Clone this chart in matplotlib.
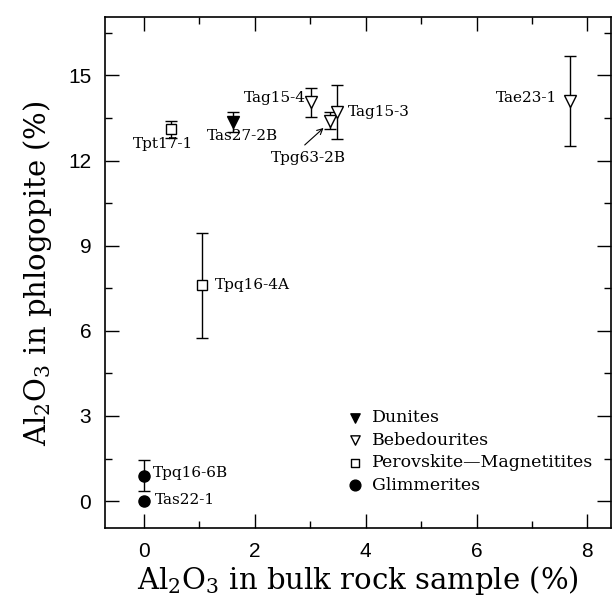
import numpy as np
import matplotlib
matplotlib.use("Agg")
import matplotlib.pyplot as plt
from matplotlib.ticker import MultipleLocator

plt.rcParams['mathtext.fontset'] = 'dejavuserif'

# sample data: Al2O3 bulk rock (x), Al2O3 in phlogopite (y), error on y
dun_names = ["Tas27-2B"]
dun_x = [1.6]
dun_y = [13.35]
dun_err = [0.35]

beb_names = ["Tag15-4", "Tpg63-2B", "Tag15-3", "Tae23-1"]
beb_x = [3.02, 3.35, 3.49, 7.68]
beb_y = [14.05, 13.4, 13.7, 14.1]
beb_err = [0.5, 0.3, 0.95, 1.6]

per_names = ["Tpt17-1", "Tpq16-4A"]
per_x = [0.49, 1.05]
per_y = [13.1, 7.6]
per_err = [0.3, 1.85]

gli_names = ["Tpq16-6B", "Tas22-1"]
gli_x = [0.0, 0.0]
gli_y = [0.9, 0.0]
gli_err = [0.55, 0.0]

fig = plt.figure(figsize=(6.15, 5.96), dpi=100)
ax = fig.add_axes([0.171, 0.114, 0.822, 0.857])

ekw = dict(ecolor='k', elinewidth=1.0, capsize=4, capthick=1.0, ls='none')
ax.errorbar(dun_x, dun_y, yerr=dun_err, marker='v', ms=8, mfc='k', mec='k', **ekw)
ax.errorbar(beb_x, beb_y, yerr=beb_err, marker='v', ms=8, mfc='white', mec='k', mew=1.0, **ekw)
ax.errorbar(per_x, per_y, yerr=per_err, marker='s', ms=7, mfc='white', mec='k', mew=1.0, **ekw)
ax.errorbar(gli_x, gli_y, yerr=[e if e > 0 else np.nan for e in gli_err],
            marker='o', ms=8, mfc='k', mec='k', **ekw)

lab = dict(fontsize=11, family='DejaVu Serif', va='center')
ax.text(0.34, 12.6, "Tpt17-1", ha='center', **lab)
ax.text(1.78, 12.85, "Tas27-2B", ha='center', **lab)
ax.text(2.92, 14.2, "Tag15-4", ha='right', **lab)
ax.text(3.67, 13.7, "Tag15-3", ha='left', **lab)
ax.text(7.45, 14.2, "Tae23-1", ha='right', **lab)
ax.text(1.28, 7.6, "Tpq16-4A", ha='left', **lab)
ax.text(0.16, 1.0, "Tpq16-6B", ha='left', **lab)
ax.text(0.2, 0.05, "Tas22-1", ha='left', **lab)
ax.text(2.97, 12.08, "Tpg63-2B", ha='center', **lab)
ax.annotate("", xy=(3.24, 13.15), xytext=(2.9, 12.55),
            arrowprops=dict(arrowstyle='->', color='k', lw=0.8,
                            shrinkA=0, shrinkB=0))

# legend entries
h1 = ax.scatter([], [], marker='v', s=45, c='k')
h2 = ax.scatter([], [], marker='v', s=45, facecolors='white', edgecolors='k')
h3 = ax.scatter([], [], marker='s', s=35, facecolors='white', edgecolors='k')
h4 = ax.scatter([], [], marker='o', s=60, c='k')
ax.legend([h1, h2, h3, h4],
          ["Dunites", "Bebedourites", "Perovskite\u2014Magnetitites", "Glimmerites"],
          loc='lower left', bbox_to_anchor=(0.46, 0.05), frameon=False,
          prop={'family': 'DejaVu Serif', 'size': 12.5},
          handlelength=1.0, handletextpad=0.45, labelspacing=0.32, borderpad=0)

ax.set_xlim(-0.7, 8.42)
ax.set_ylim(-0.95, 17.05)
ax.xaxis.set_major_locator(MultipleLocator(2))
ax.xaxis.set_minor_locator(MultipleLocator(1))
ax.yaxis.set_major_locator(MultipleLocator(3))
ax.yaxis.set_minor_locator(MultipleLocator(1.5))
ax.tick_params(which='both', direction='in', top=True, right=True, width=1.0)
ax.tick_params(which='major', length=10, labelsize=15, pad=10)
ax.tick_params(which='minor', length=5)
for t in ax.get_xticklabels() + ax.get_yticklabels():
    t.set_family('Liberation Sans')
for s in ax.spines.values():
    s.set_linewidth(1.2)

ax.set_xlabel(r"Al$_2$O$_3$ in bulk rock sample (%)", family='DejaVu Serif',
              fontsize=21, labelpad=2)
ax.set_ylabel(r"Al$_2$O$_3$ in phlogopite (%)", family='DejaVu Serif',
              fontsize=21, labelpad=10)

fig.savefig("out.png", dpi=100)
